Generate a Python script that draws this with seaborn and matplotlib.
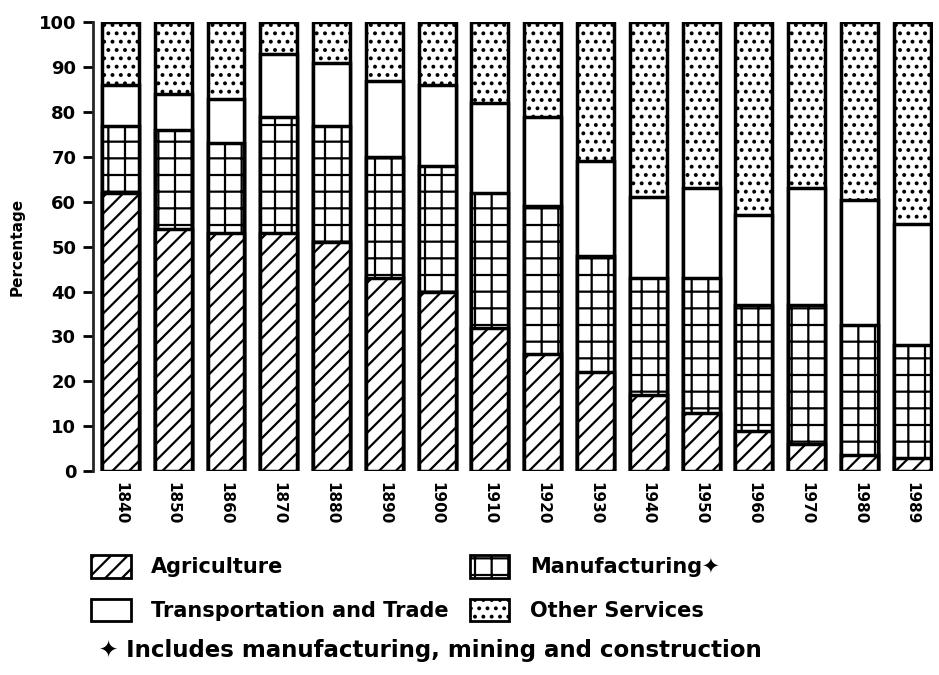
import numpy as np
import pandas as pd
import matplotlib.pyplot as plt
import matplotlib.patches as mpatches
import seaborn as sns

years = ["1840", "1850", "1860", "1870", "1880", "1890", "1900", "1910",
         "1920", "1930", "1940", "1950", "1960", "1970", "1980", "1989"]
agriculture = [62, 54, 53, 53, 51, 43, 40, 32, 26, 22, 17, 13, 9, 6, 3.5, 3]
manufacturing = [15, 22, 20, 26, 26, 27, 28, 30, 33, 26, 26, 30, 28, 31, 29, 25]
transport_trade = [9, 8, 10, 14, 14, 17, 18, 20, 20, 21, 18, 20, 20, 26, 28, 27]
other_services = [14, 16, 17, 7, 9, 13, 14, 18, 21, 31, 39, 37, 43, 37, 39.5, 45]

sectors = ["Agriculture", "Manufacturing\u2726", "Transportation and Trade", "Other Services"]
hatches = ["//", "+", "", ".."]

sns.set_style("ticks")
plt.rcParams["font.family"] = ["DejaVu Sans"]
plt.rcParams["text.color"] = "black"
plt.rcParams["xtick.color"] = "black"
plt.rcParams["ytick.color"] = "black"
plt.rcParams["axes.labelcolor"] = "black"
plt.rcParams["hatch.linewidth"] = 1.6
plt.rcParams["hatch.color"] = "black"

df = pd.DataFrame({
    "year": years,
    "Agriculture": agriculture,
    "Manufacturing\u2726": manufacturing,
    "Transportation and Trade": transport_trade,
    "Other Services": other_services,
})

# stack by drawing cumulative totals from the tallest down
cum = df[sectors].cumsum(axis=1)

fig = plt.figure(figsize=(9.39, 6.75), dpi=100)
ax = fig.add_axes([0.099, 0.302, 0.895, 0.665])

for sector, hatch in zip(sectors[::-1], hatches[::-1]):
    sns.barplot(x=df["year"], y=cum[sector], ax=ax, color="white", saturation=1,
                edgecolor="black", linewidth=2.5, hatch=hatch, width=0.7)

ax.set_ylim(0, 100)
ax.set_xlim(-0.52, 15.4)
ax.set_yticks(range(0, 101, 10))
ax.tick_params(axis="y", length=7, width=2, pad=5, labelsize=13)
ax.tick_params(axis="x", length=0, pad=8, labelsize=11)
for lab in ax.get_yticklabels():
    lab.set_fontweight("bold")
for lab in ax.get_xticklabels():
    lab.set_rotation(270)
    lab.set_fontweight("bold")
ax.set_xlabel("")
ax.set_ylabel("Percentage", fontsize=11, fontweight="bold", labelpad=10)
sns.despine(ax=ax, bottom=True)
ax.spines["left"].set_linewidth(2)

handles = [mpatches.Patch(facecolor="white", edgecolor="black", linewidth=2, hatch=h)
           for h in hatches]
order = [0, 2, 1, 3]
fig.legend([handles[i] for i in order], [sectors[i] for i in order],
           loc="upper left", bbox_to_anchor=(0.088, 0.19), ncol=2, frameon=False,
           prop={"size": 15, "weight": "bold"}, handlelength=1.9, handleheight=1.3,
           handletextpad=1.0, columnspacing=1.0, labelspacing=1.0, borderaxespad=0)

fig.text(0.105, 0.037, "\u2726 Includes manufacturing, mining and construction",
         fontsize=16.5, fontweight="bold", ha="left", va="center")

fig.savefig("out.png", dpi=100)
